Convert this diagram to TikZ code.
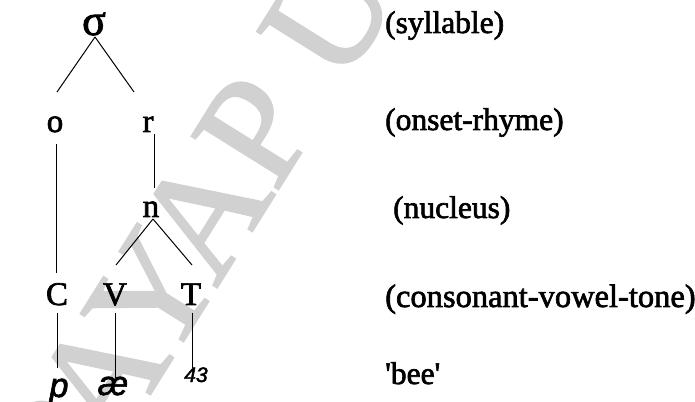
\documentclass[tikz,border=0pt]{standalone}
\usepackage{fontspec}
\setmainfont{Liberation Serif}[FakeBold=2]
\newfontfamily\glossfont{Liberation Sans}[FakeBold=2]
\newfontfamily\stampfont{Liberation Serif}[FakeBold=1.5]
\usetikzlibrary{calc}
\tikzset{
  treenode/.style={anchor=base, inner sep=0pt, font=\fontsize{33}{38}\selectfont},
  glossnode/.style={anchor=base, inner sep=0pt, font=\glossfont\itshape\fontsize{34}{38}\selectfont},
  levellabel/.style={anchor=base west, inner sep=0pt, font=\fontsize{31.5}{37}\selectfont},
  branch/.style={line width=1pt, black},
  stamp/.style={anchor=base west, inner sep=0pt, rotate=58, text=black!18,
                font=\stampfont\fontsize{155}{180}\selectfont}
}
\begin{document}
\begin{tikzpicture}[x=1pt, y=1pt]
  \useasboundingbox (0,0) rectangle (695,401);

  % faint stamp across the page
  \begin{scope}
    \clip (0,0) rectangle (695,401);
    \node[stamp] (wm) at (76,-112) {PAYAP U};
  \end{scope}

  % syllable tree
  \node[treenode, font=\fontsize{44}{50}\selectfont] (sg) at (94,366) {σ};
  \node[treenode] (o) at (55,269) {o};
  \node[treenode] (r) at (148,269) {r};
  \node[treenode] (n) at (151,184) {n};
  \node[treenode] (C) at (57,96) {C};
  \node[treenode] (V) at (115,96) {V};
  \node[treenode] (T) at (191,96) {T};
  \node[glossnode] (p) at (59,4) {p};
  \node[glossnode] (ae) at (113,6) {æ};
  \node[glossnode, font=\glossfont\itshape\fontsize{21}{24}\selectfont] (tone) at (196,19) {43};

  % branches
  \draw[branch] ($(sg.base)+(1,-2)$) -- ($(o.base)+(2,40)$);
  \draw[branch] ($(sg.base)+(1,-2)$) -- ($(r.base)+(-14,40)$);
  \draw[branch] ($(o.base)+(1,-12)$) -- ($(C.base)+(-1,32)$);
  \draw[branch] ($(r.base)+(6,-2)$) -- ($(n.base)+(3,29)$);
  \draw[branch] ($(n.base)+(2,-2)$) -- ($(V.base)+(1,40)$);
  \draw[branch] ($(n.base)+(2,-2)$) -- ($(T.base)+(1,40)$);
  \draw[branch] ($(C.base)+(0,-8)$) -- ($(p.base)+(-2,29)$);
  \draw[branch] ($(V.base)+(0,-8)$) -- ($(ae.base)+(2,17)$);
  \draw[branch] ($(T.base)+(1,-8)$) -- ($(tone.base)+(-4,14)$);

  % level labels
  \node[levellabel] (l1) at (385,368) {(syllable)};
  \node[levellabel] (l2) at (385,271) {(onset-rhyme)};
  \node[levellabel] (l3) at (393,183) {(nucleus)};
  \node[levellabel, font=\fontsize{32.5}{37}\selectfont] (l4) at (385,94) {(consonant-vowel-tone)};
  \node[levellabel] (l5) at (385,17) {\textquotesingle bee\textquotesingle};
\end{tikzpicture}
\end{document}
